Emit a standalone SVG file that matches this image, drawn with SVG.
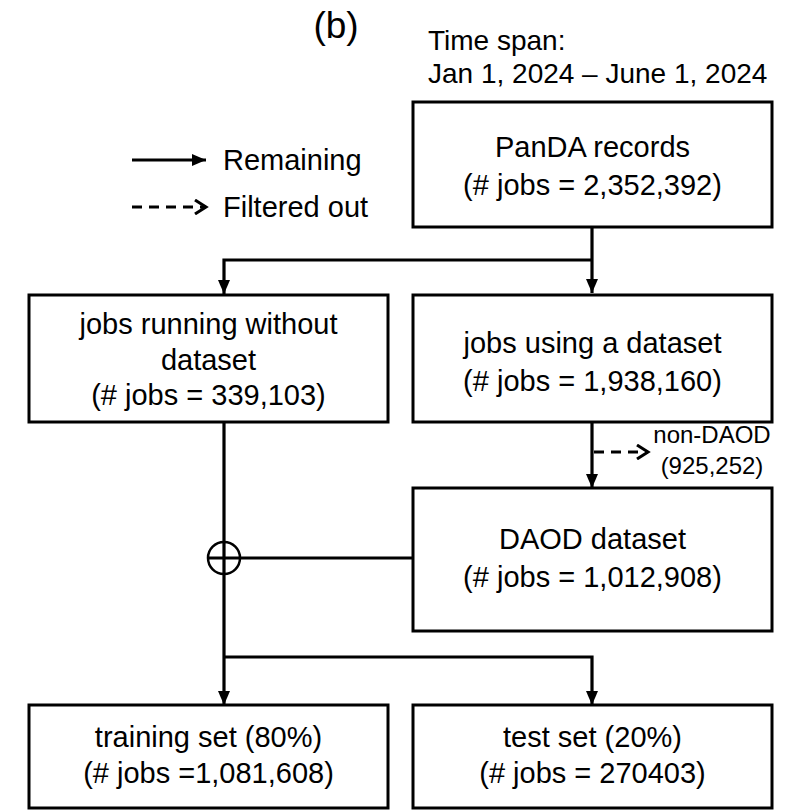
<svg xmlns="http://www.w3.org/2000/svg" width="792" height="812" viewBox="0 0 792 812">
<defs>
<style>
.box{fill:#fff;stroke:#000;stroke-width:3}
.t{font-family:"Liberation Sans",Arial,sans-serif;font-size:29px;fill:#000;text-anchor:middle}
.tl{font-family:"Liberation Sans",Arial,sans-serif;font-size:28px;fill:#000}
.s{font-family:"Liberation Sans",Arial,sans-serif;font-size:24px;fill:#000;text-anchor:middle}
.ln{fill:none;stroke:#000;stroke-width:3.2}
.dash{fill:none;stroke:#000;stroke-width:2.8;stroke-dasharray:10,7}
</style>
<marker id="ah" markerUnits="userSpaceOnUse" markerWidth="14" markerHeight="14" viewBox="0 0 14 14" refX="14" refY="7" orient="auto">
<path d="M0,1 L14,7 L0,13 Z" fill="#000"/>
</marker>
<marker id="oh" markerUnits="userSpaceOnUse" markerWidth="16" markerHeight="16" viewBox="0 0 16 16" refX="13" refY="8" orient="auto">
<path d="M2,1 L13,8 L2,15" fill="none" stroke="#000" stroke-width="3"/>
</marker>
</defs>
<rect width="792" height="812" fill="#fff"/>

<text class="t" x="336" y="38" style="font-size:37px">(b)</text>
<text class="tl" x="428" y="50">Time span:</text>
<text class="tl" x="428" y="83">Jan 1, 2024 – June 1, 2024</text>

<g id="legend">
<line class="ln" x1="132" y1="160" x2="206" y2="160" marker-end="url(#ah)"/>
<text class="tl" x="223" y="170" style="font-size:29px">Remaining</text>
<line class="dash" x1="132" y1="207" x2="206" y2="207" marker-end="url(#oh)"/>
<text class="tl" x="223" y="217" style="font-size:29px">Filtered out</text>
</g>

<g id="connectors">
<line class="ln" x1="592" y1="227" x2="592" y2="293" marker-end="url(#ah)"/>
<polyline class="ln" points="592,260 224,260 224,294" marker-end="url(#ah)"/>
<line class="ln" x1="592" y1="422" x2="592" y2="488" marker-end="url(#ah)"/>
<line class="dash" x1="594" y1="452" x2="648" y2="452" marker-end="url(#oh)"/>
<line class="ln" x1="224" y1="422" x2="224" y2="705" marker-end="url(#ah)"/>
<line class="ln" x1="208" y1="558" x2="413" y2="558"/>
<circle cx="224" cy="558" r="16" fill="none" stroke="#000" stroke-width="2.5"/>
<polyline class="ln" points="224,657 592,657 592,705" marker-end="url(#ah)"/>
</g>

<g id="nonDAOD">
<text class="s" x="712" y="443">non-DAOD</text>
<text class="s" x="712" y="474">(925,252)</text>
</g>

<g id="panda">
<rect class="box" x="413" y="102" width="359" height="125"/>
<text class="t" x="592.5" y="157">PanDA records</text>
<text class="t" x="592.5" y="195">(# jobs = 2,352,392)</text>
</g>

<g id="nodataset">
<rect class="box" x="29" y="295" width="359" height="127"/>
<text class="t" x="208.5" y="334">jobs running without</text>
<text class="t" x="208.5" y="370">dataset</text>
<text class="t" x="208.5" y="405">(# jobs = 339,103)</text>
</g>

<g id="withdataset">
<rect class="box" x="413" y="295" width="359" height="127"/>
<text class="t" x="592.5" y="353">jobs using a dataset</text>
<text class="t" x="592.5" y="391">(# jobs = 1,938,160)</text>
</g>

<g id="daod">
<rect class="box" x="413" y="488" width="359" height="143"/>
<text class="t" x="592.5" y="549">DAOD dataset</text>
<text class="t" x="592.5" y="587">(# jobs = 1,012,908)</text>
</g>

<g id="training">
<rect class="box" x="29" y="705" width="359" height="103"/>
<text class="t" x="208.5" y="747">training set (80%)</text>
<text class="t" x="208.5" y="783">(# jobs =1,081,608)</text>
</g>

<g id="test">
<rect class="box" x="413" y="705" width="359" height="103"/>
<text class="t" x="592.5" y="747">test set (20%)</text>
<text class="t" x="592.5" y="783">(# jobs = 270403)</text>
</g>
</svg>
